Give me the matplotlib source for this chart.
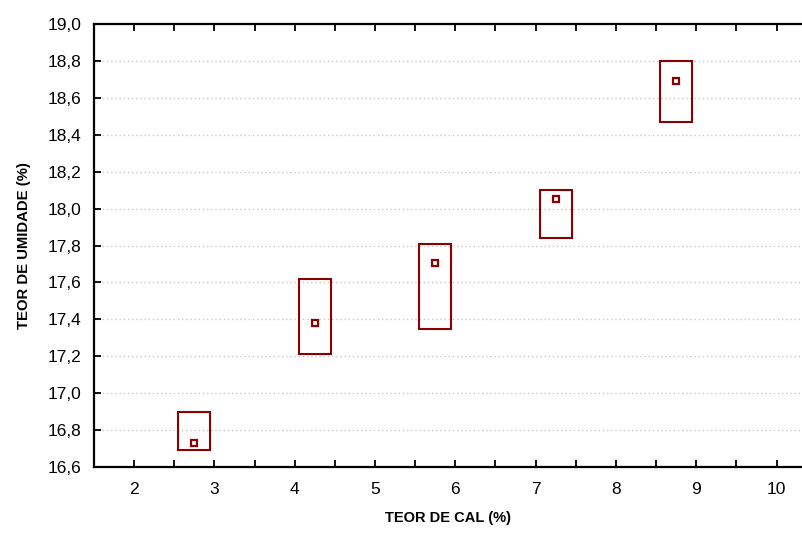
import matplotlib.pyplot as plt
from matplotlib.ticker import FuncFormatter, MultipleLocator

plt.rcParams['font.family'] = ['Liberation Sans', 'DejaVu Sans']

# teor de cal (%) e teor de umidade (%)
cal = [2.75, 4.25, 5.75, 7.25, 8.75]
umidade_media = [16.73, 17.38, 17.705, 18.05, 18.69]
umidade_min = [16.69, 17.21, 17.35, 17.84, 18.47]
umidade_max = [16.90, 17.62, 17.81, 18.10, 18.80]

cor = '#8b0000'

fig = plt.figure(figsize=(8.03, 5.34), dpi=100)
ax = fig.add_axes([0.117, 0.1255, 0.883, 0.8295])

alturas = [hi - lo for lo, hi in zip(umidade_min, umidade_max)]
ax.bar(cal, alturas, bottom=umidade_min, width=0.4, fill=False,
       edgecolor=cor, linewidth=1.5, zorder=3)
ax.plot(cal, umidade_media, linestyle='none', marker='s', markersize=5,
        markerfacecolor='white', markeredgecolor=cor, markeredgewidth=1.6, zorder=4)

ax.set_xlim(1.5, 10.33)
ax.set_ylim(16.6, 19.0)
ax.xaxis.set_major_locator(MultipleLocator(1))
ax.xaxis.set_minor_locator(MultipleLocator(0.5))
ax.yaxis.set_major_locator(MultipleLocator(0.2))
ax.yaxis.set_major_formatter(FuncFormatter(lambda v, p: f'{v:.1f}'.replace('.', ',')))

ax.tick_params(axis='both', which='both', direction='in', top=True, labelsize=12.5, width=1.3)
ax.tick_params(axis='x', which='major', length=5, pad=11)
ax.tick_params(axis='x', which='minor', length=5)
ax.tick_params(axis='y', length=5, pad=9)
ax.grid(axis='y', linestyle=(0, (1, 2)), color='#c8c8c8', linewidth=1)
ax.set_axisbelow(True)

for s in ['left', 'bottom', 'top']:
    ax.spines[s].set_linewidth(1.6)
ax.spines['right'].set_visible(False)

ax.set_xlabel('TEOR DE CAL (%)', fontsize=10.5, fontweight='bold', labelpad=10)
ax.set_ylabel('TEOR DE UMIDADE (%)', fontsize=10.7, fontweight='bold', labelpad=12)

fig.savefig('out.png', dpi=100)
